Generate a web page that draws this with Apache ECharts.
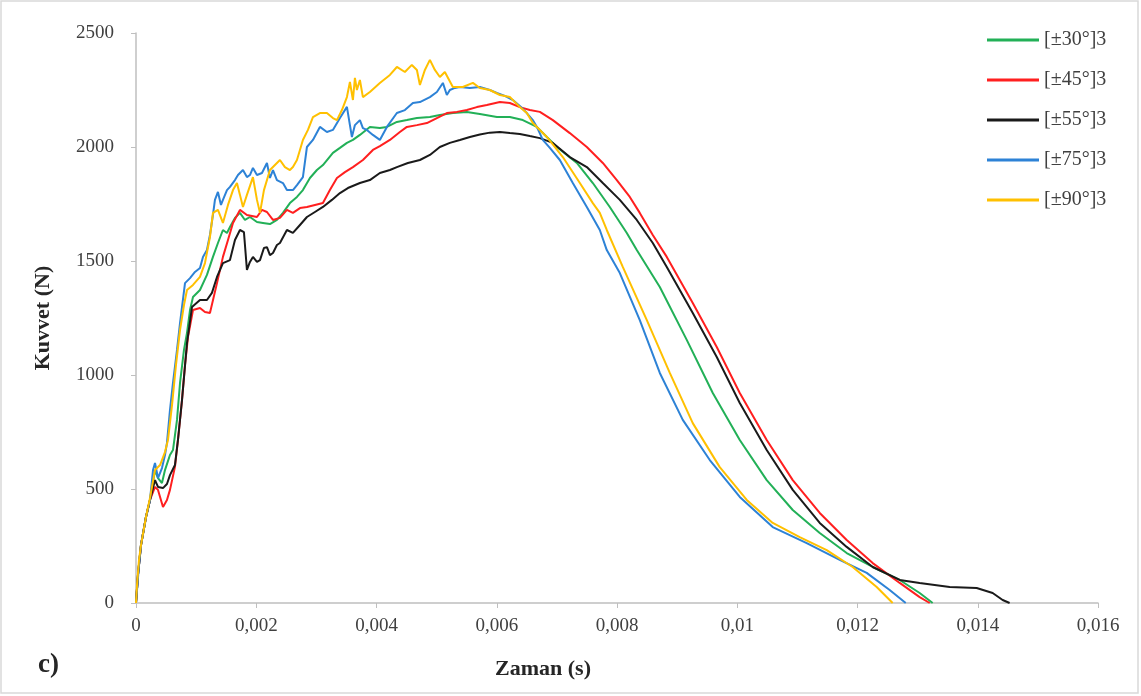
<!DOCTYPE html>
<html>
<head>
<meta charset="utf-8">
<script src="https://cdn.jsdelivr.net/npm/echarts@6/dist/echarts.min.js"></script>
<style>
  html, body { margin: 0; padding: 0; background: #fff; }
  #chart { width: 1141px; height: 696px; }
</style>
</head>
<body>
<div id="chart"></div>
<script>
// [zaman (s), kuvvet (N)] — okunan noktalar
const seriesNames = ['[±30°]3', '[±45°]3', '[±55°]3', '[±75°]3', '[±90°]3']
const seriesColors = ['#22b057', '#ff1f1f', '#1a1a1a', '#2d82d6', '#ffc000']

const xTicks = { min: 0, max: 0.016, interval: 0.002 }
const yTicks = { min: 0, max: 2500, interval: 500 }

const s30 = [
  [0,0],[0.000033,123],[0.000083,254],[0.000166,377],[0.000233,452],[0.000316,583],[0.000366,548],
  [0.000432,526],[0.000482,583],[0.000565,649],[0.000615,671],[0.000682,803],[0.000732,965],
  [0.000798,1110],[0.000848,1184],[0.000898,1285],[0.000948,1342],[0.001064,1373],[0.00118,1439],
  [0.00128,1518],[0.001363,1579],[0.001446,1636],[0.001513,1623],[0.001563,1649],[0.001646,1689],
  [0.001729,1711],[0.001812,1680],[0.001895,1693],[0.002012,1671],[0.002111,1667],[0.002228,1662],
  [0.002344,1680],[0.002444,1711],[0.00256,1754],[0.002677,1781],[0.002776,1811],[0.002893,1864],
  [0.003009,1899],[0.003109,1921],[0.003275,1974],[0.003392,1996],[0.003508,2018],[0.003608,2031],
  [0.003724,2053],[0.00389,2088],[0.004056,2083],[0.004173,2088],[0.004339,2110],[0.004505,2118],
  [0.004672,2127],[0.004888,2132],[0.005054,2140],[0.00527,2149],[0.005503,2154],[0.005719,2145],
  [0.006002,2132],[0.006218,2132],[0.006434,2118],[0.006667,2088],[0.006833,2044],[0.007,2000],
  [0.007165,1965],[0.007332,1930],[0.007598,1842],[0.00788,1737],[0.008163,1623],[0.008329,1548],
  [0.008712,1386],[0.00916,1154],[0.009593,921],[0.010042,715],[0.01049,539],[0.010923,408],
  [0.011372,307],[0.01182,219],[0.012253,158],[0.012702,101],[0.013034,44],[0.01325,0]
]

const s45 = [
  [0,0],[0.000033,123],[0.000083,254],[0.000166,377],[0.000233,452],[0.000316,509],[0.000366,496],
  [0.000449,421],[0.000515,452],[0.000565,496],[0.000648,597],[0.000698,715],[0.000765,890],
  [0.000815,1044],[0.000865,1167],[0.000948,1285],[0.001064,1294],[0.001147,1276],[0.00123,1272],
  [0.001347,1403],[0.001446,1518],[0.00153,1592],[0.001613,1667],[0.001729,1724],[0.001845,1702],
  [0.002012,1693],[0.002095,1724],[0.002178,1715],[0.002278,1680],[0.002394,1689],[0.00251,1724],
  [0.00261,1711],[0.002727,1732],[0.002843,1737],[0.002976,1746],[0.003109,1754],[0.003225,1811],
  [0.003342,1864],[0.003475,1890],[0.003608,1912],[0.003774,1943],[0.00394,1987],[0.004056,2004],
  [0.004223,2031],[0.004389,2066],[0.004505,2088],[0.004672,2096],[0.004838,2105],[0.005004,2127],
  [0.00517,2149],[0.005337,2154],[0.005503,2162],[0.005669,2175],[0.005835,2184],[0.006052,2197],
  [0.006218,2193],[0.006384,2175],[0.00655,2162],[0.006717,2154],[0.006933,2118],[0.007215,2061],
  [0.007498,2000],[0.007764,1930],[0.007997,1855],[0.008213,1781],[0.008379,1711],[0.008595,1614],
  [0.008828,1518],[0.009044,1417],[0.00926,1316],[0.009659,1123],[0.010042,921],[0.01049,715],
  [0.010923,539],[0.011372,395],[0.01182,276],[0.012253,175],[0.012702,88],[0.013034,26],[0.013201,0]
]

const s55 = [
  [0,0],[0.000033,123],[0.000083,254],[0.000166,377],[0.000233,452],[0.000316,539],[0.000366,509],
  [0.000449,504],[0.000515,522],[0.000565,561],[0.000648,605],[0.000698,715],[0.000765,890],
  [0.000848,1140],[0.000931,1298],[0.001064,1329],[0.00118,1329],[0.001263,1360],[0.001347,1430],
  [0.001446,1491],[0.001563,1504],[0.001646,1592],[0.001729,1636],[0.001795,1627],[0.001845,1461],
  [0.001895,1496],[0.001945,1518],[0.002012,1496],[0.002062,1504],[0.002128,1557],[0.002178,1561],
  [0.002228,1526],[0.002278,1535],[0.002344,1570],[0.002394,1579],[0.00251,1636],[0.00261,1623],
  [0.002727,1658],[0.002843,1693],[0.002976,1715],[0.003109,1737],[0.003258,1768],[0.003392,1798],
  [0.003524,1820],[0.003724,1842],[0.00389,1855],[0.004056,1886],[0.004223,1899],[0.004339,1912],
  [0.004522,1930],[0.004722,1943],[0.004888,1965],[0.005054,2000],[0.00522,2018],[0.005387,2031],
  [0.005553,2044],[0.005719,2055],[0.005885,2063],[0.006052,2066],[0.006218,2061],[0.006384,2057],
  [0.00655,2048],[0.006717,2039],[0.006933,2018],[0.007215,1956],[0.007498,1912],[0.007764,1842],
  [0.008047,1768],[0.008329,1680],[0.008595,1579],[0.008828,1474],[0.00926,1272],[0.009659,1079],
  [0.010042,877],[0.01049,671],[0.010923,496],[0.011372,351],[0.01182,246],[0.012253,158],
  [0.012702,101],[0.013034,88],[0.013533,70],[0.013982,66],[0.014248,44],[0.014414,13],[0.01453,0]
]

const s75 = [
  [0,0],[0.000017,57],[0.00005,167],[0.000083,254],[0.000166,377],[0.000233,452],[0.000283,583],
  [0.000316,614],[0.000366,548],[0.000432,592],[0.000482,649],[0.000515,702],[0.000565,846],
  [0.000615,965],[0.000682,1110],[0.000732,1228],[0.000815,1403],[0.000898,1425],[0.000981,1452],
  [0.001064,1469],[0.001114,1518],[0.00118,1548],[0.00123,1614],[0.00128,1702],[0.001313,1768],
  [0.001363,1803],[0.001413,1746],[0.001446,1768],[0.001513,1811],[0.001563,1825],[0.001646,1855],
  [0.001696,1877],[0.001779,1899],[0.001845,1868],[0.001895,1877],[0.001945,1908],[0.002012,1877],
  [0.002095,1886],[0.002178,1930],[0.002228,1864],[0.002278,1899],[0.002344,1855],[0.002444,1842],
  [0.00251,1811],[0.00261,1811],[0.002677,1833],[0.002776,1868],[0.002843,2000],[0.002943,2031],
  [0.003059,2088],[0.003175,2066],[0.003275,2075],[0.003392,2127],[0.003508,2176],[0.003558,2096],
  [0.003591,2044],[0.003641,2096],[0.003724,2118],[0.003774,2083],[0.00384,2075],[0.00394,2053],
  [0.004056,2031],[0.004173,2088],[0.004339,2149],[0.004472,2162],[0.004605,2193],[0.004722,2197],
  [0.004888,2219],[0.005004,2241],[0.005104,2281],[0.00517,2228],[0.00522,2250],[0.005304,2259],
  [0.005387,2263],[0.005553,2259],[0.005719,2263],[0.005885,2250],[0.006002,2237],[0.006135,2224],
  [0.006268,2206],[0.006384,2180],[0.0065,2149],[0.0066,2118],[0.006667,2088],[0.006766,2031],
  [0.006883,1996],[0.007049,1943],[0.007265,1842],[0.007498,1737],[0.007714,1636],[0.00783,1548],
  [0.008047,1447],[0.008379,1241],[0.008712,1009],[0.009094,803],[0.009543,627],[0.010042,465],
  [0.01059,333],[0.011155,263],[0.011704,189],[0.012153,132],[0.012535,57],[0.012802,0]
]

const s90 = [
  [0,0],[0.000017,79],[0.00005,189],[0.000083,254],[0.000166,377],[0.000233,461],[0.000316,583],
  [0.0004,605],[0.000482,662],[0.000532,715],[0.000599,868],[0.000665,1044],[0.000732,1197],
  [0.000798,1307],[0.000848,1373],[0.000948,1395],[0.001064,1430],[0.001147,1491],[0.00123,1605],
  [0.00128,1711],[0.001363,1724],[0.001446,1667],[0.00153,1746],[0.001613,1811],[0.001679,1842],
  [0.001729,1790],[0.001779,1737],[0.001845,1790],[0.001945,1868],[0.002012,1768],[0.002062,1711],
  [0.002128,1811],[0.002228,1899],[0.002311,1921],[0.002394,1943],[0.002477,1912],[0.00256,1899],
  [0.00261,1912],[0.002677,1943],[0.002727,1987],[0.002776,2031],[0.00286,2075],[0.002943,2131],
  [0.003059,2149],[0.003175,2149],[0.003275,2127],[0.003342,2118],[0.003425,2162],[0.003508,2219],
  [0.003558,2285],[0.003608,2206],[0.003641,2303],[0.003674,2250],[0.003724,2294],[0.003774,2219],
  [0.00389,2241],[0.004056,2281],[0.004223,2316],[0.004339,2351],[0.004472,2329],[0.004588,2360],
  [0.004672,2338],[0.004722,2272],[0.004805,2338],[0.004888,2382],[0.004971,2338],[0.005054,2307],
  [0.005137,2329],[0.00527,2263],[0.005436,2263],[0.005603,2281],[0.005719,2259],[0.005885,2250],
  [0.006052,2228],[0.006218,2219],[0.006384,2175],[0.0065,2149],[0.0066,2105],[0.006833,2044],
  [0.007099,1956],[0.007382,1842],[0.007598,1754],[0.007714,1711],[0.00783,1636],[0.008096,1474],
  [0.008496,1241],[0.008878,1009],[0.00926,789],[0.009709,596],[0.010158,452],[0.01059,351],
  [0.011039,289],[0.011488,232],[0.01192,158],[0.012319,70],[0.012585,0]
]

const allData = [s30, s45, s55, s75, s90]

const serif = '"Liberation Serif", "DejaVu Serif", serif'
const axisGray = '#bfbfbf'

function fmtX(v) {
  if (v === 0) return '0'
  return String(parseFloat(v.toFixed(4))).replace('.', ',')
}

const chart = echarts.init(document.getElementById('chart'))
chart.setOption({
  animation: false,
  backgroundColor: '#fff',
  grid: { left: 136, right: 43, top: 33, bottom: 93 },
  legend: {
    orient: 'vertical',
    left: 982,
    top: 25,
    icon: 'rect',
    itemWidth: 52,
    itemHeight: 3,
    itemGap: 20,
    data: seriesNames,
    textStyle: { fontFamily: serif, fontSize: 20, color: '#404040', lineHeight: 20 }
  },
  xAxis: {
    type: 'value',
    min: xTicks.min, max: xTicks.max, interval: xTicks.interval,
    name: 'Zaman (s)',
    nameLocation: 'middle',
    nameGap: 55,
    nameTextStyle: { fontFamily: serif, fontSize: 22, fontWeight: 'bold', color: '#262626', padding: [0, 148, 0, 0] },
    axisLine: { show: true, lineStyle: { color: axisGray, width: 1.5 } },
    axisTick: { show: true, length: 5, lineStyle: { color: axisGray } },
    axisLabel: { formatter: fmtX, fontFamily: serif, fontSize: 19, color: '#404040', margin: 14 },
    splitLine: { show: false }
  },
  yAxis: {
    type: 'value',
    min: yTicks.min, max: yTicks.max, interval: yTicks.interval,
    name: 'Kuvvet (N)',
    nameLocation: 'middle',
    nameGap: 82,
    nameTextStyle: { fontFamily: serif, fontSize: 22, fontWeight: 'bold', color: '#262626' },
    axisLine: { show: true, lineStyle: { color: axisGray, width: 1.5 } },
    axisTick: { show: true, length: 5, lineStyle: { color: axisGray } },
    axisLabel: { formatter: v => String(v), fontFamily: serif, fontSize: 19, color: '#404040', margin: 22 },
    splitLine: { show: false }
  },
  series: seriesNames.map((n, i) => ({
    name: n,
    type: 'line',
    data: allData[i],
    symbol: 'none',
    smooth: false,
    color: seriesColors[i],
    lineStyle: { width: 2, color: seriesColors[i] }
  })),
  graphic: [
    { type: 'rect', shape: { x: 1, y: 1, width: 1137, height: 692 }, style: { fill: 'none', stroke: '#d9d9d9', lineWidth: 1.5 }, silent: true },
    { type: 'text', left: 38, top: 652, style: { text: 'c)', fontFamily: serif, fontSize: 27, fontWeight: 'bold', fill: '#262626' } }
  ]
})
</script>
</body>
</html>
